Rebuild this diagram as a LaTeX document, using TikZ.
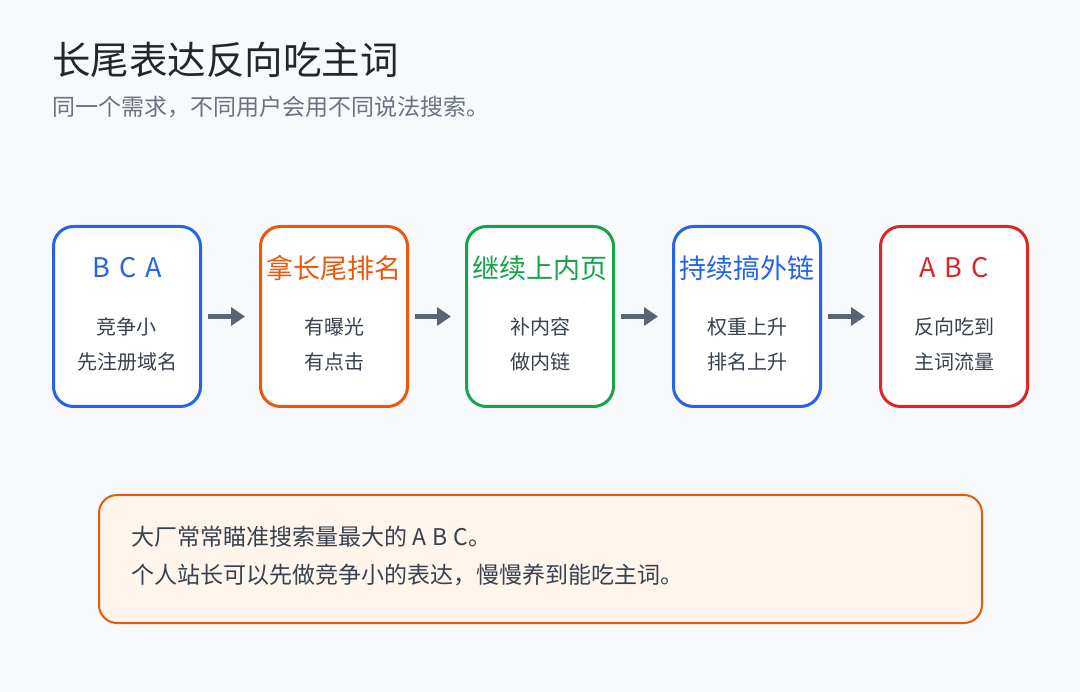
\documentclass[tikz,border=0pt]{standalone}
\usepackage{fontspec}
\setmainfont{Noto Sans CJK SC}
\usetikzlibrary{arrows.meta}

\definecolor{pagebg}{HTML}{F8F9FB}
\definecolor{titlecol}{HTML}{22262D}
\definecolor{subcol}{HTML}{6B7280}
\definecolor{bodycol}{HTML}{374151}
\definecolor{arrowcol}{HTML}{5B6472}
\definecolor{blueline}{HTML}{2563EB}
\definecolor{orangeline}{HTML}{EA580C}
\definecolor{greenline}{HTML}{16A34A}
\definecolor{redline}{HTML}{DC2626}
\definecolor{notefill}{HTML}{FFF5EC}

\begin{document}
\begin{tikzpicture}[x=1pt, y=-1pt,
  stage/.style={draw=#1, line width=3pt, rounded corners=20pt, fill=white,
    minimum width=147pt, minimum height=180pt},
  head/.style={text=#1, font=\fontsize{27}{30}\selectfont},
  body/.style={text=bodycol, align=center, font=\fontsize{20}{35}\selectfont},
  flow/.style={draw=arrowcol, fill=arrowcol, line width=5pt,
    -{Triangle[length=14pt, width=18pt]}, shorten <=6pt, shorten >=14pt}]
  \fill[pagebg] (0,0) rectangle (1080,692);
  \useasboundingbox (0,0) rectangle (1080,692);

  % title
  \node[anchor=west, text=titlecol, font=\fontsize{38.5}{40}\selectfont, inner sep=0pt] (title) at (52,60) {长尾表达反向吃主词};
  \node[anchor=west, text=subcol, font=\fontsize{23}{26}\selectfont, inner sep=0pt] (subtitle) at (52,107) {同一个需求，不同用户会用不同说法搜索。};

  % stages
  \node[stage=blueline]   (s1) at (127,316.5) {};
  \node[stage=orangeline] (s2) at (334,316.5) {};
  \node[stage=greenline]  (s3) at (540,316.5) {};
  \node[stage=blueline]   (s4) at (747,316.5) {};
  \node[stage=redline]    (s5) at (954,316.5) {};

  \node[head=blueline]   (h1) at (127,268) {B\hspace{9pt}C\hspace{9pt}A};
  \node[head=orangeline] (h2) at (334,268) {拿长尾排名};
  \node[head=greenline]  (h3) at (540,268) {继续上内页};
  \node[head=blueline]   (h4) at (747,268) {持续搞外链};
  \node[head=redline]    (h5) at (954,268) {A\hspace{9pt}B\hspace{9pt}C};

  \node[body] (b1) at (127,344.5) {竞争小\\先注册域名};
  \node[body] (b2) at (334,344.5) {有曝光\\有点击};
  \node[body] (b3) at (540,344.5) {补内容\\做内链};
  \node[body] (b4) at (747,344.5) {权重上升\\排名上升};
  \node[body] (b5) at (954,344.5) {反向吃到\\主词流量};

  \draw[flow] (s1) -- (s2);
  \draw[flow] (s2) -- (s3);
  \draw[flow] (s3) -- (s4);
  \draw[flow] (s4) -- (s5);

  % note
  \node[draw=orangeline, fill=notefill, line width=2pt, rounded corners=18pt,
    minimum width=883pt, minimum height=128pt] (note) at (540.5,559) {};
  \node[anchor=west, text=bodycol, align=left, inner sep=0pt,
    font=\fontsize{23}{38}\selectfont] (notetext) at (131,556)
    {大厂常常瞄准搜索量最大的 A\hspace{6pt}B\hspace{6pt}C。\\个人站长可以先做竞争小的表达，慢慢养到能吃主词。};
\end{tikzpicture}
\end{document}
